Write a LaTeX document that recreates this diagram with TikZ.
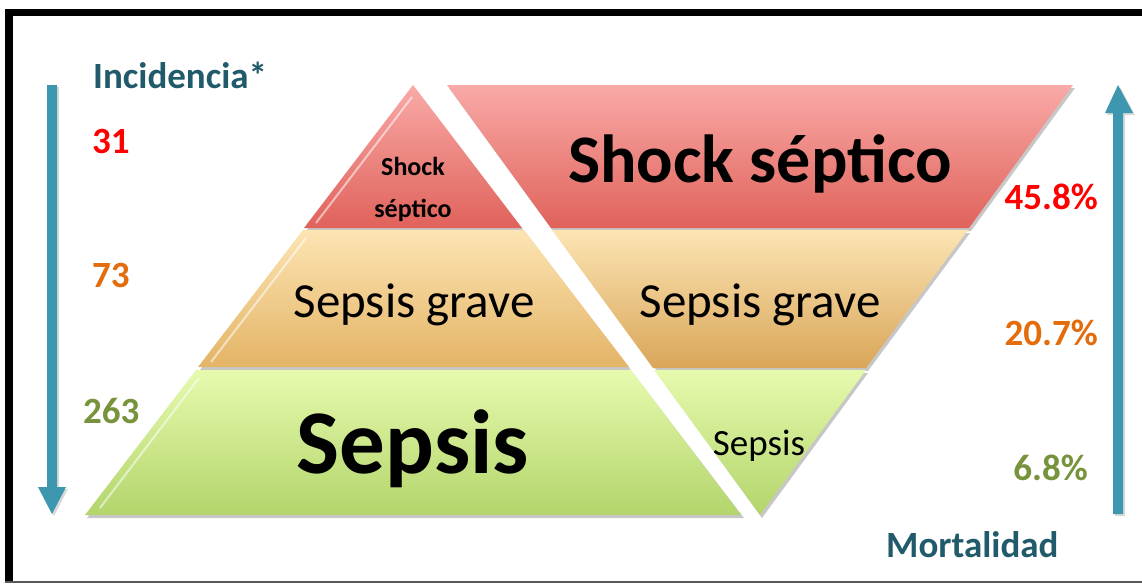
\documentclass[tikz,border=0pt]{standalone}
\usepackage{fontspec}
\setmainfont{Carlito}
\definecolor{arrowc}{HTML}{3D97AE}
\definecolor{titlec}{HTML}{215A6A}
\definecolor{redn}{HTML}{FF0000}
\definecolor{orangen}{HTML}{E46C0A}
\definecolor{greenn}{HTML}{77933C}
\definecolor{redtop}{HTML}{F9AAA7}
\definecolor{redbot}{HTML}{E0625B}
\definecolor{tantop}{HTML}{FCE4B3}
\definecolor{tanbot}{HTML}{E4B466}
\definecolor{tanbotr}{HTML}{D9A659}
\definecolor{grntop}{HTML}{E6FAAE}
\definecolor{grnbot}{HTML}{B3D56B}
\tikzset{
  shadowfill/.style={fill=black,opacity=0.22},
  bevel/.style={draw=white,opacity=0.55,line width=2pt},
  lbl/.style={anchor=base,inner sep=0pt,font=\bfseries\fontsize{37}{40}\selectfont},
  lyr/.style={anchor=base,inner sep=0pt},
}
\begin{document}
\begin{tikzpicture}[x=1pt,y=-1pt]
\useasboundingbox (0,0) rectangle (1142,584);
\fill[white] (0,0) rectangle (1142,584);
% frame
\fill[black] (5,9) rectangle (1142,16);
\fill[black] (5,9) rectangle (13,582);
\fill[black!65] (5,581) rectangle (1142,583);

% shadows
\fill[shadowfill] (415,88) -- (524,231) -- (306,231) -- cycle;
\fill[shadowfill] (305,233) -- (526,233) -- (631,370) -- (200,370) -- cycle;
\fill[shadowfill] (198,373) -- (633,373) -- (744,518) -- (87,518) -- cycle;
\fill[shadowfill] (449,88) -- (1075,88) -- (971,231) -- (553,231) -- cycle;
\fill[shadowfill] (555,233) -- (970,233) -- (868,371) -- (657,371) -- cycle;
\fill[shadowfill] (657,373) -- (868,373) -- (762,518) -- cycle;

% left pyramid
\shade[top color=redtop,bottom color=redbot] (413,85) -- (522,228) -- (304,228) -- cycle;
\shade[top color=tantop,bottom color=tanbot] (303,230) -- (524,230) -- (629,367) -- (198,367) -- cycle;
\shade[top color=grntop,bottom color=grnbot] (196,370) -- (631,370) -- (741,515) -- (85,515) -- cycle;
% bevel highlights
\draw[bevel] (412,97) -- (316,223);
\draw[bevel] (306,238) -- (211,362);
\draw[bevel] (199,378) -- (100,508);

% inverted triangle
\shade[top color=redtop,bottom color=redbot] (447,85) -- (1073,85) -- (969,228) -- (551,228) -- cycle;
\shade[top color=tantop,bottom color=tanbotr] (552,230) -- (968,230) -- (866,368) -- (653,368) -- cycle;
\shade[top color=grntop,bottom color=grnbot] (654,370) -- (866,370) -- (760,515) -- cycle;

% arrows
\fill[black,opacity=0.15] (49,87) -- (59,87) -- (59,489) -- (68,489) -- (54,516) -- (40,489) -- (49,489) -- cycle;
\fill[arrowc] (47,85) -- (57,85) -- (57,487) -- (66,487) -- (52,514) -- (38,487) -- (47,487) -- cycle;
\fill[black,opacity=0.15] (1115,516) -- (1125,516) -- (1125,115) -- (1135,115) -- (1120,87) -- (1107,115) -- (1115,115) -- cycle;
\fill[arrowc] (1113,514) -- (1123,514) -- (1123,113) -- (1133,113) -- (1118,85) -- (1105,113) -- (1113,113) -- cycle;

% side labels
\node[lbl,anchor=base west,text=titlec] (inc) at (93,88) {Incidencia*};
\node[lbl,anchor=base west,text=redn] (n31) at (92,153) {31};
\node[lbl,anchor=base west,text=orangen] (n73) at (92,287) {73};
\node[lbl,anchor=base west,text=greenn] (n263) at (83,423) {263};
\node[lbl,anchor=base east,text=redn] (p458) at (1098,209) {45.8\%};
\node[lbl,anchor=base east,text=orangen] (p207) at (1098,345) {20.7\%};
\node[lbl,anchor=base east,text=greenn] (p68) at (1088,480) {6.8\%};
\node[lbl,anchor=base west,text=titlec] (mort) at (886,557) {Mortalidad};

% layer labels
\node[lyr,font=\bfseries\fontsize{26}{28}\selectfont] (ss1) at (413,175) {Shock};
\node[lyr,font=\bfseries\fontsize{26}{28}\selectfont] (ss2) at (413,217) {séptico};
\node[lyr,font=\fontsize{49}{52}\selectfont] (sg1) at (414,317) {Sepsis grave};
\node[lyr,font=\bfseries\fontsize{91}{95}\selectfont] (sp1) at (413,473) {Sepsis};
\node[lyr,font=\bfseries\fontsize{68}{72}\selectfont] (ss3) at (760,182) {Shock séptico};
\node[lyr,font=\fontsize{49}{52}\selectfont] (sg2) at (760,317) {Sepsis grave};
\node[lyr,font=\fontsize{37}{40}\selectfont] (sp2) at (759,455) {Sepsis};
\end{tikzpicture}
\end{document}
